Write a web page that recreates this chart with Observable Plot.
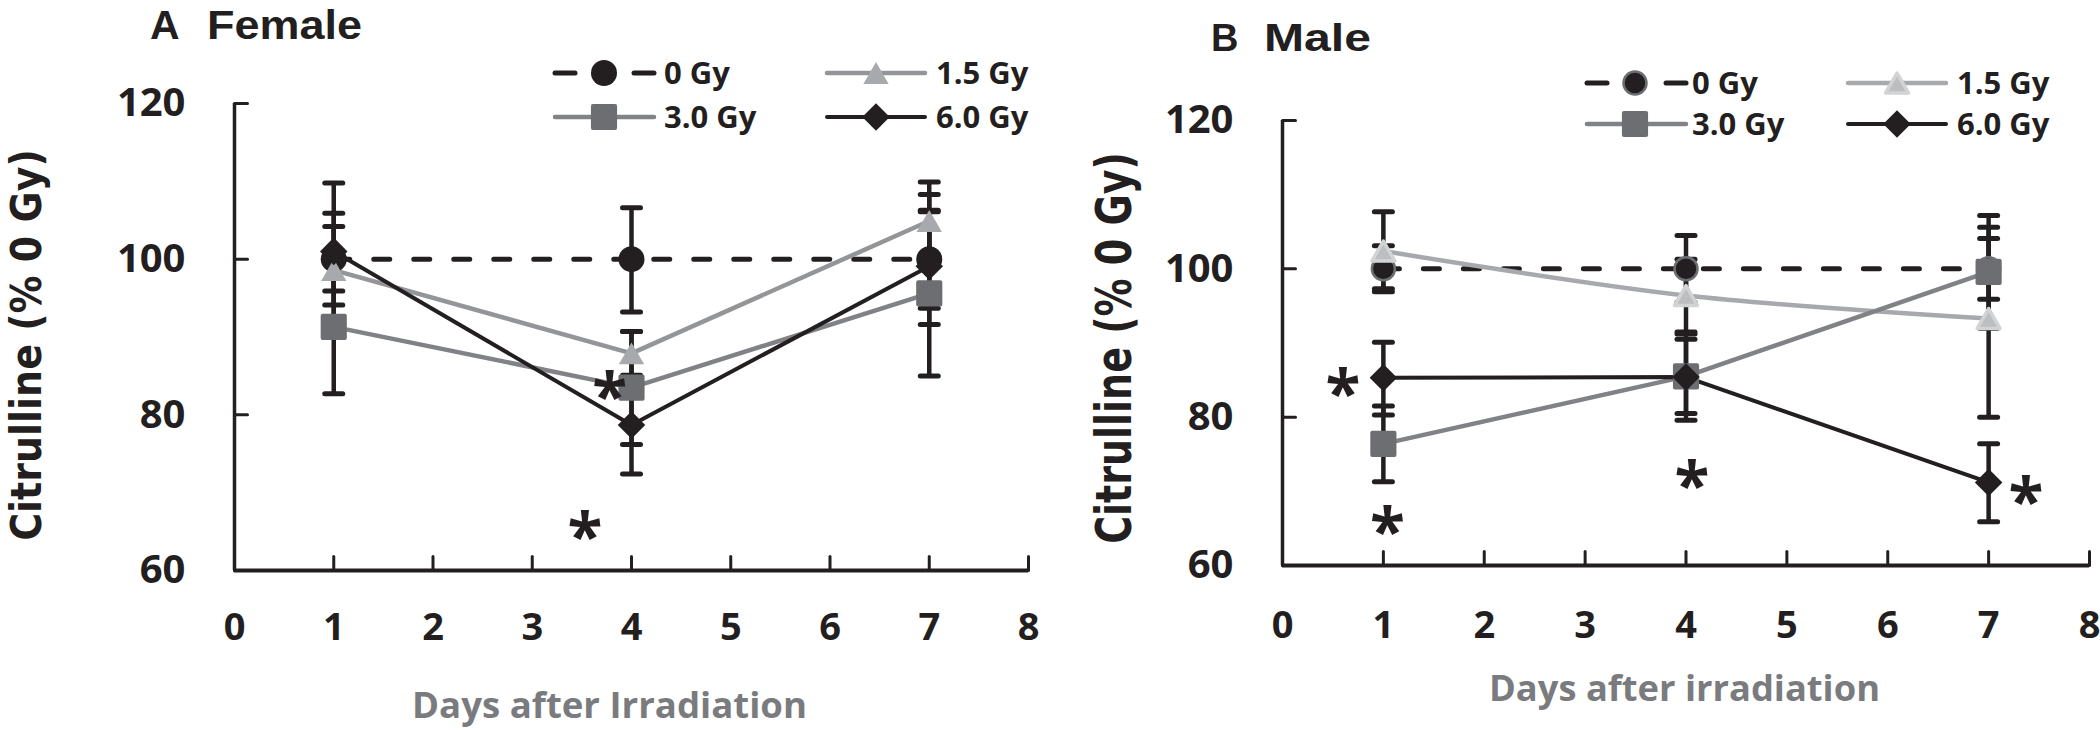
<!DOCTYPE html>
<html>
<head>
<meta charset="utf-8">
<script src="https://cdn.jsdelivr.net/npm/d3@7"></script>
<script src="https://cdn.jsdelivr.net/npm/@observablehq/plot@0.6"></script>
<style>
  html, body { margin: 0; padding: 0; background: #fff; }
  body { width: 2100px; height: 730px; position: relative; overflow: hidden; font-family: "Open Sans", sans-serif; }
  .panel { position: absolute; top: 0; width: 1050px; height: 730px; }
  #overlay { position: absolute; left: 0; top: 0; pointer-events: none; }
</style>
</head>
<body>
<div id="panelA" class="panel" style="left:0px"></div>
<div id="panelB" class="panel" style="left:1050px"></div>
<svg id="overlay" width="2100" height="730"></svg>
<script>
// ---------------- data ----------------
const days = [1, 4, 7];
const doses = ["0 Gy", "1.5 Gy", "3.0 Gy", "6.0 Gy"];
const xTicks = [0, 1, 2, 3, 4, 5, 6, 7, 8];
const yTicks = [60, 80, 100, 120];

// Female (panel A): rows = doses, columns = days
const femaleMean = [[100, 100, 100], [98.6, 87.9, 104.9], [91.3, 83.5, 95.6], [101.0, 78.7, 99.1]];
const femaleLow  = [[94.1, 93.2, 93.7], [95.9, 85.1, 99.9], [82.7, 76.2, 85.0], [92.4, 72.4, 91.6]];
const femaleHigh = [[105.9, 106.6, 106.3], [104.2, 90.7, 109.9], [99.9, 90.7, 106.1], [109.8, 85.0, 108.3]];
const femaleStarX = [3.78, 3.53];
const femaleStarY = [84.4, 66.4];

// Male (panel B)
const maleMean = [[100, 100, 100], [102.4, 96.4, 93.3], [76.4, 85.5, 99.6], [85.3, 85.4, 71.2]];
const maleLow  = [[96.9, 95.5, 95.9], [97.3, 91.5, 80.0], [71.3, 80.5, 92.0], [80.3, 79.6, 65.9]];
const maleHigh = [[103.1, 104.5, 104.1], [107.7, 101.3, 105.6], [81.5, 90.5, 107.2], [90.1, 91.2, 76.4]];
const maleStarX = [0.60, 1.04, 4.06, 7.37];
const maleStarY = [85.4, 66.8, 72.9, 70.8];

// ---------------- styles ----------------
const BLACK = "#231f20";
const FONT = "'Open Sans', sans-serif";

// bbox-centred triangle (like spreadsheet markers)
const triSym = {
  draw(ctx, size) {
    const a = Math.sqrt(4 * size / Math.sqrt(3));
    const h = a * Math.sqrt(3) / 2;
    ctx.moveTo(0, -h / 2);
    ctx.lineTo(a / 2, h / 2);
    ctx.lineTo(-a / 2, h / 2);
    ctx.closePath();
  }
};
const seg = { draw(ctx, l) { ctx.moveTo(0, 0); ctx.lineTo(0, -l); } };

const styleA = [
  { line: BLACK, width: 5, dash: "16,24", sym: "circle", r: 13, fill: BLACK, stroke: "none", sw: 0 },
  { line: "#939598", width: 4.5, sym: triSym, r: 9.4, fill: "#a7a9ac", stroke: "none", sw: 0 },
  { line: "#808285", width: 4.5, sym: "square", r: 12.5, fill: "#6d6e71", stroke: "#6d6e71", sw: 4 },
  { line: BLACK, width: 4, sym: "diamond2", r: 12.4, fill: BLACK, stroke: "none", sw: 0 }
];
const styleB = [
  { line: BLACK, width: 5, dash: "16,24", sym: "circle", r: 11.5, fill: BLACK, stroke: "#6d6e71", sw: 2.5 },
  { line: "#a7a9ac", width: 4.5, curve: "catmull-rom", sym: triSym, r: 8.5, fill: "#bcbec0", stroke: "#d1d3d4", sw: 3.5 },
  { line: "#808285", width: 4.5, sym: "square", r: 12.5, fill: "#6d6e71", stroke: "#6d6e71", sw: 4 },
  { line: BLACK, width: 4, sym: "diamond2", r: 12.4, fill: BLACK, stroke: "none", sw: 0 }
];

function buildRows(mean, low, high) {
  const rows = [];
  doses.forEach((dose, i) => days.forEach((day, j) => {
    rows.push({ dose, si: i, day, mean: mean[i][j], lo: low[i][j], hi: high[i][j] });
  }));
  return rows;
}

function panel(cfg) {
  const rows = buildRows(cfg.mean, cfg.low, cfg.high);
  const caps = rows.flatMap(d => [{ day: d.day, v: d.lo }, { day: d.day, v: d.hi }]);
  const stars = cfg.starX.map((x, i) => ({ x, y: cfg.starY[i] }));
  const marks = [
    // axes
    Plot.ruleX([0], { y1: 60, y2: 120, stroke: BLACK, strokeWidth: 3.5 }),
    Plot.ruleY([60], { x1: 0, x2: 8, stroke: BLACK, strokeWidth: 4 }),
    Plot.vector(xTicks, { x: d => d, y: 60, length: 14, anchor: "start", rotate: 0, shape: seg, stroke: BLACK, strokeWidth: 3 }),
    Plot.vector(yTicks, { x: 0, y: d => d, length: 13, anchor: "start", rotate: 90, shape: seg, stroke: BLACK, strokeWidth: 3 }),
    Plot.axisX(xTicks, { tickSize: 0, tickPadding: cfg.xPad, fontSize: cfg.xFont, fontWeight: "bold", fontFamily: FONT, fill: BLACK, label: null }),
    Plot.axisY(yTicks, { tickSize: 0, tickPadding: 49, fontSize: 40, fontWeight: "bold", fontFamily: FONT, fill: BLACK, label: null }),
    // error bars
    Plot.ruleX(rows, { x: "day", y1: "lo", y2: "hi", stroke: BLACK, strokeWidth: 4.5 }),
    Plot.vector(caps, { x: "day", y: "v", length: 18, anchor: "middle", rotate: 90, shape: seg, stroke: BLACK, strokeWidth: 5 })
  ];
  doses.forEach((dose, i) => {
    const s = cfg.style[i];
    marks.push(Plot.line(rows.filter(d => d.si === i), {
      x: "day", y: "mean", stroke: s.line, strokeWidth: s.width,
      strokeDasharray: s.dash || null, strokeLinecap: s.dash ? "round" : "butt",
      curve: s.curve || "linear"
    }));
  });
  doses.forEach((dose, i) => {
    const s = cfg.style[i];
    marks.push(Plot.dot(rows.filter(d => d.si === i), {
      x: "day", y: "mean", symbol: s.sym, r: s.r, fill: s.fill,
      stroke: s.stroke, strokeWidth: s.sw, strokeLinejoin: "round"
    }));
  });
  marks.push(Plot.text(stars, { x: "x", y: "y", text: () => "*", fontSize: 64, fontWeight: "bold", fontFamily: FONT, fill: BLACK, dy: 18 }));

  return Plot.plot({
    width: 1050, height: 730,
    marginLeft: cfg.ml, marginRight: cfg.mr, marginTop: cfg.mt, marginBottom: cfg.mb,
    x: { domain: [0, 8], label: null },
    y: { domain: [60, 120], label: null },
    style: { background: "transparent", overflow: "visible", fontFamily: FONT },
    marks
  });
}

document.getElementById("panelA").append(panel({
  mean: femaleMean, low: femaleLow, high: femaleHigh, starX: femaleStarX, starY: femaleStarY,
  style: styleA, ml: 234, mr: 22, mt: 103, mb: 160, xPad: 43, xFont: 38
}));
document.getElementById("panelB").append(panel({
  mean: maleMean, low: maleLow, high: maleHigh, starX: maleStarX, starY: maleStarY,
  style: styleB, ml: 232, mr: 11, mt: 120, mb: 165, xPad: 46, xFont: 38
}));

// ---------------- titles, axis titles, legends ----------------
const ov = d3.select("#overlay");
function txt(x, y, s, o = {}) {
  const t = ov.append("text").attr("x", x).attr("y", y).text(s)
    .attr("font-family", o.family || FONT).attr("font-weight", "bold")
    .attr("font-size", o.size || 30).attr("fill", o.fill || BLACK);
  if (o.len) t.attr("textLength", o.len).attr("lengthAdjust", "spacingAndGlyphs");
  if (o.anchor) t.attr("text-anchor", o.anchor);
  if (o.transform) t.attr("transform", o.transform);
  return t;
}
const TITLE = "'Liberation Sans', Arial, sans-serif";
// panel titles
txt(150, 39, "A", { size: 41, family: TITLE });
txt(207, 39, "Female", { size: 41, len: 155, family: TITLE });
txt(1211, 51, "B", { size: 38, family: TITLE });
txt(1264, 51, "Male", { size: 38, len: 107, family: TITLE });
// y-axis titles
txt(0, 0, "Citrulline (% 0 Gy)", { family: "'DejaVu Sans', sans-serif", size: 38, anchor: "middle", transform: "translate(41,345) rotate(-90) scale(1,1.1)" });
txt(0, 0, "Citrulline (% 0 Gy)", { family: "'DejaVu Sans', sans-serif", size: 38, anchor: "middle", transform: "translate(1131,348) rotate(-90) scale(1,1.3)" });
// x-axis titles
txt(412, 718, "Days after Irradiation", { size: 35, len: 395, fill: "#7a7b7e" });
txt(1489, 701, "Days after irradiation", { size: 35, len: 391, fill: "#7a7b7e" });

function legend(style, rowsY, cols) {
  const items = [[0, 0, 0], [1, 0, 1], [2, 1, 0], [3, 1, 1]]; // dose index, row, col
  items.forEach(([i, row, col]) => {
    const s = style[i];
    const y = rowsY[row];
    const c = cols[col];
    if (s.dash) {
      ov.append("line").attr("x1", c.x0).attr("x2", c.x0 + 20).attr("y1", y).attr("y2", y)
        .attr("stroke", s.line).attr("stroke-width", s.width).attr("stroke-linecap", "round");
      ov.append("line").attr("x1", c.x1 - 20).attr("x2", c.x1).attr("y1", y).attr("y2", y)
        .attr("stroke", s.line).attr("stroke-width", s.width).attr("stroke-linecap", "round");
    } else {
      ov.append("line").attr("x1", c.x0).attr("x2", c.x1).attr("y1", y).attr("y2", y)
        .attr("stroke", s.line).attr("stroke-width", s.width).attr("stroke-linecap", "round");
    }
    const symType = typeof s.sym === "string"
      ? { circle: d3.symbolCircle, square: d3.symbolSquare, diamond2: d3.symbolDiamond2 }[s.sym]
      : s.sym;
    ov.append("path").attr("d", d3.symbol(symType, s.r * s.r * Math.PI)())
      .attr("transform", `translate(${c.m},${y})`)
      .attr("fill", s.fill).attr("stroke", s.stroke).attr("stroke-width", s.sw).attr("stroke-linejoin", "round");
    txt(c.t, y + 11, doses[i], { size: 31 });
  });
}
legend(styleA, [73, 117], [{ x0: 555, x1: 654, m: 604, t: 664 }, { x0: 827, x1: 925, m: 876, t: 936 }]);
legend(styleB, [83, 124], [{ x0: 1587, x1: 1686, m: 1635, t: 1692 }, { x0: 1848, x1: 1946, m: 1897, t: 1957 }]);
</script>
</body>
</html>
